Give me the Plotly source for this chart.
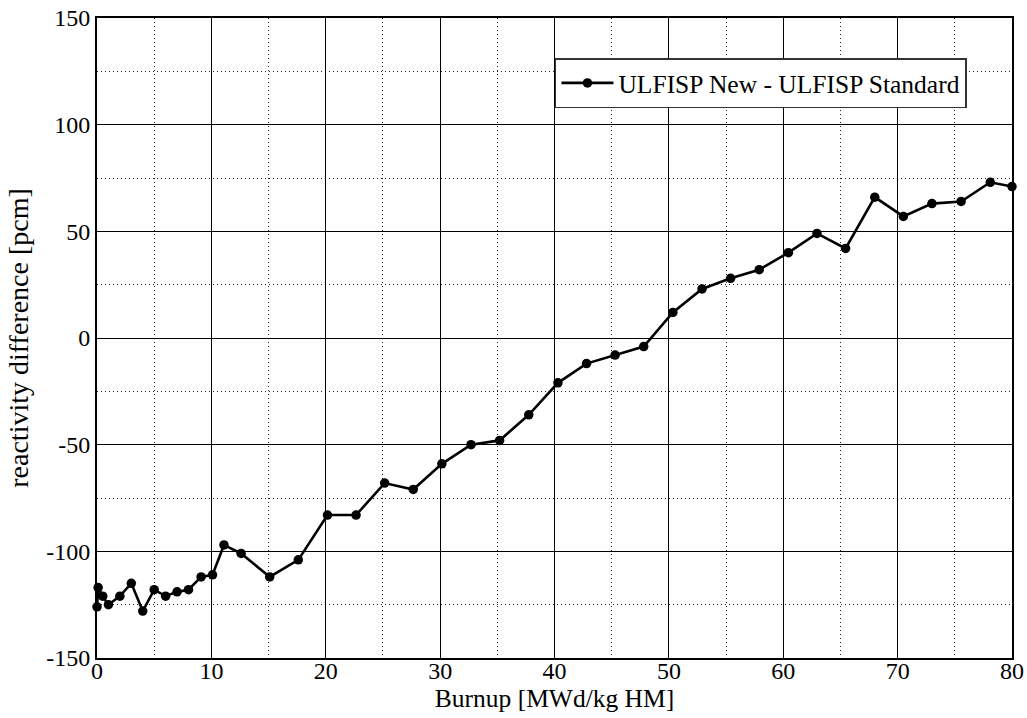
import plotly.graph_objects as go

# Burnup steps [MWd/kg HM] and reactivity difference [pcm]
burnup = [0.0, 0.1, 0.5, 1.0, 2.0, 3.0, 4.0, 5.0, 6.0, 7.0, 8.0, 9.1, 10.1,
          11.1, 12.6, 15.1, 17.6, 20.15, 22.65, 25.15, 27.65, 30.15, 32.7,
          35.2, 37.75, 40.3, 42.8, 45.3, 47.8, 50.35, 52.9, 55.4, 57.9,
          60.45, 62.95, 65.45, 68.0, 70.5, 73.0, 75.55, 78.1, 80.0]
reactivity_diff = [-126, -117, -121, -125, -121, -115, -128, -118, -121, -119,
                   -118, -112, -111, -97, -101, -112, -104, -83, -83, -68,
                   -71, -59, -50, -48, -36, -21, -12, -8, -4, 12, 23, 28, 32,
                   40, 49, 42, 66, 57, 63, 64, 73, 71]
series_name = "ULFISP New - ULFISP Standard"

x_ticks = [0, 10, 20, 30, 40, 50, 60, 70, 80]
y_ticks = [-150, -100, -50, 0, 50, 100, 150]
y_tick_labels = ["-150", "-100", "-50", "0", "50", "100", "150"]

FONT = "Liberation Serif"

fig = go.Figure()
fig.add_trace(go.Scatter(
    x=burnup, y=reactivity_diff, name=series_name,
    mode="lines+markers",
    line=dict(color="black", width=2.6),
    marker=dict(color="black", size=9.5, symbol="circle"),
    cliponaxis=False,
    showlegend=True,
))

axis_common = dict(
    showline=True, mirror=True, linecolor="black", linewidth=2,
    showgrid=True, gridcolor="black", gridwidth=1.2,
    zeroline=False, ticks="", automargin=False,
    tickfont=dict(family=FONT, size=24, color="black"),
    minor=dict(showgrid=True, gridcolor="#222222", gridwidth=1, griddash="1px,3px"),
)

fig.update_xaxes(
    range=[0, 80], tickmode="array", tickvals=x_ticks,
    ticktext=[str(v) for v in x_ticks], minor_dtick=5, minor_tick0=0,
    ticklabelstandoff=-10,
    title=dict(text="Burnup [MWd/kg HM]", font=dict(family=FONT, size=25.5, color="black"),
               standoff=0),
    **axis_common,
)
fig.update_yaxes(
    range=[-150, 150], tickmode="array", tickvals=y_ticks,
    ticktext=y_tick_labels, minor_dtick=25, minor_tick0=0,
    title=dict(text="reactivity difference [pcm]", font=dict(family=FONT, size=28, color="black"),
               standoff=9),
    **axis_common,
)

fig.update_layout(
    width=1027, height=718,
    margin=dict(l=97, r=15, t=18, b=60),
    paper_bgcolor="white", plot_bgcolor="white",
    font=dict(family=FONT, color="black"),
    legend=dict(
        x=0.5005, y=0.937, xanchor="left", yanchor="top",
        bgcolor="white", bordercolor="#333333", borderwidth=1.5,
        font=dict(family=FONT, size=25.5, color="black"),
        tracegroupgap=0, itemwidth=52,
    ),
)

fig.write_html("out.html")
